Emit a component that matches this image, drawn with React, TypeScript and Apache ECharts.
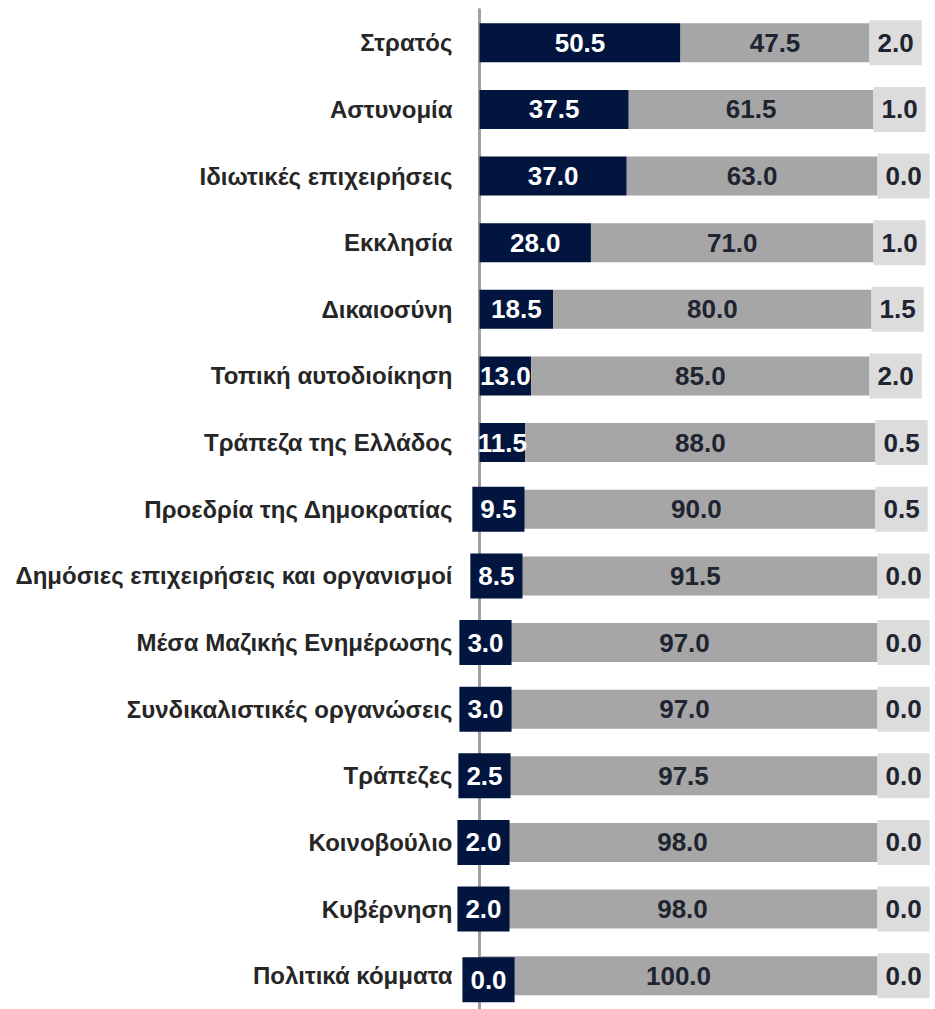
import React, { useEffect, useRef } from "react";
import * as echarts from "echarts";

const categories = [
  "Στρατός",
  "Αστυνομία",
  "Ιδιωτικές επιχειρήσεις",
  "Εκκλησία",
  "Δικαιοσύνη",
  "Τοπική αυτοδιοίκηση",
  "Τράπεζα της Ελλάδος",
  "Προεδρία της Δημοκρατίας",
  "Δημόσιες επιχειρήσεις και οργανισμοί",
  "Μέσα Μαζικής Ενημέρωσης",
  "Συνδικαλιστικές οργανώσεις",
  "Τράπεζες",
  "Κοινοβούλιο",
  "Κυβέρνηση",
  "Πολιτικά κόμματα",
];
const trustValues = [50.5, 37.5, 37.0, 28.0, 18.5, 13.0, 11.5, 9.5, 8.5, 3.0, 3.0, 2.5, 2.0, 2.0, 0.0];
const distrustValues = [47.5, 61.5, 63.0, 71.0, 80.0, 85.0, 88.0, 90.0, 91.5, 97.0, 97.0, 97.5, 98.0, 98.0, 100.0];
const noAnswerValues = [2.0, 1.0, 0.0, 1.0, 1.5, 2.0, 0.5, 0.5, 0.0, 0.0, 0.0, 0.0, 0.0, 0.0, 0.0];

const NAVY = "#01153f";
const GRAY = "#a6a6a6";
const LIGHT = "#dcdcdc";
const DARK_TEXT = "#1e2430";
const NUM_FONT = '"Liberation Sans Narrow", "Liberation Sans", Arial, sans-serif';
const CAT_FONT = '"Liberation Sans", Arial, sans-serif';

const fmt = (p: any) => Number(p.value).toFixed(1);

export default function App() {
  const ref = useRef<HTMLDivElement>(null);
  useEffect(() => {
    if (!ref.current) return;
    const chart = echarts.init(ref.current, null, { renderer: "svg" });
    const numLabel = {
      fontFamily: NUM_FONT,
      fontWeight: "bold" as const,
      fontSize: 26,
      lineHeight: 28,
      formatter: fmt,
    };
    chart.setOption({
      animation: false,
      grid: { left: 479.5, top: 9.5, height: 1003.5, width: 398, containLabel: false },
      xAxis: {
        type: "value",
        min: 0,
        max: 100,
        show: false,
      },
      yAxis: {
        type: "category",
        data: categories,
        inverse: true,
        axisLine: { show: true, lineStyle: { color: "#a0a0a0", width: 3 } },
        axisTick: { show: false },
        axisLabel: {
          margin: 27,
          fontFamily: CAT_FONT,
          fontWeight: "bold",
          fontSize: 24,
          color: "#262626",
        },
      },
      series: [
        {
          name: "Εμπιστεύομαι",
          type: "bar",
          stack: "total",
          barWidth: 39,
          itemStyle: { color: NAVY },
          label: { show: true, position: "inside", color: "#ffffff", ...numLabel },
          data: trustValues.map((v) =>
            v < 10
              ? {
                  value: v,
                  label: {
                    backgroundColor: NAVY,
                    padding: [8, 8, 9, 8],
                    offset: v === 0 ? [9, 4] : [0, 0],
                  },
                }
              : { value: v }
          ),
        },
        {
          name: "Δεν εμπιστεύομαι",
          type: "bar",
          stack: "total",
          barWidth: 39,
          itemStyle: { color: GRAY },
          label: { show: true, position: "inside", color: DARK_TEXT, ...numLabel },
          data: distrustValues,
        },
        {
          name: "ΔΓ/ΔΑ",
          type: "bar",
          stack: "total",
          barWidth: 39,
          itemStyle: { color: LIGHT },
          label: {
            show: true,
            position: "insideLeft",
            distance: 0,
            color: DARK_TEXT,
            backgroundColor: LIGHT,
            padding: [8, 8, 9, 8],
            ...numLabel,
          },
          data: noAnswerValues,
        },
      ],
    });
    return () => chart.dispose();
  }, []);
  return (
    <div
      ref={ref}
      style={{ position: "absolute", left: 0, top: 0, width: 935, height: 1009 }}
    />
  );
}
